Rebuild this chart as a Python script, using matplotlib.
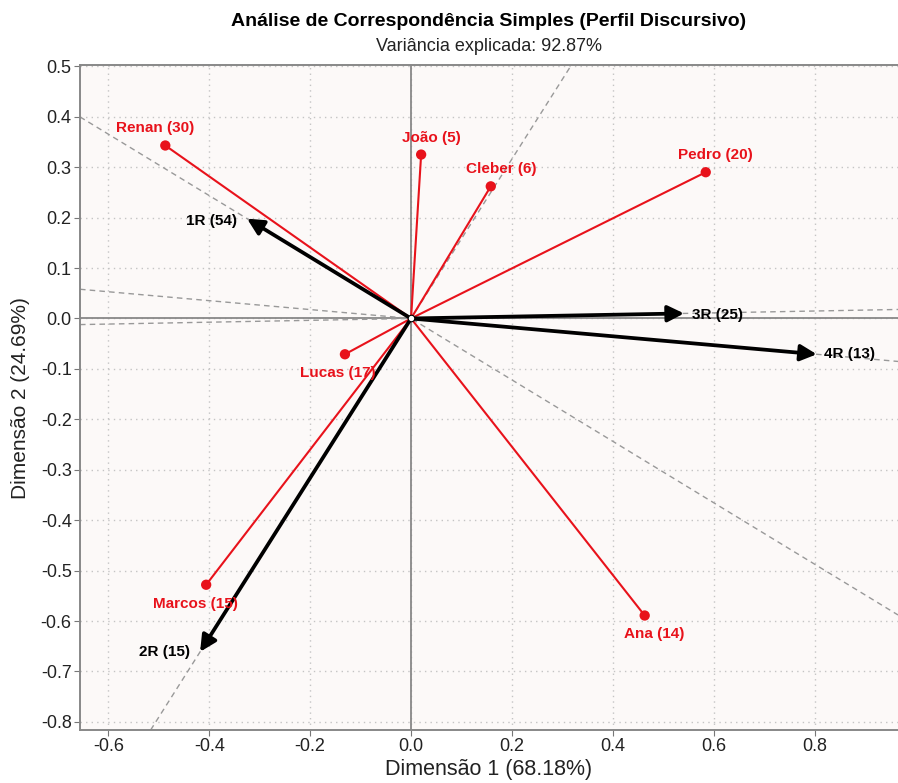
import matplotlib
matplotlib.use("Agg")
import matplotlib.pyplot as plt

# Row profiles (speakers)
row_names = ["Renan (30)", "João (5)", "Cleber (6)", "Pedro (20)", "Lucas (17)", "Marcos (15)", "Ana (14)"]
row_x = [-0.487, 0.020, 0.158, 0.584, -0.131, -0.406, 0.463]
row_y = [0.343, 0.325, 0.262, 0.290, -0.071, -0.528, -0.589]

# Column profiles (categories)
col_names = ["1R (54)", "2R (15)", "3R (25)", "4R (13)"]
col_x = [-0.325, -0.418, 0.541, 0.804]
col_y = [0.198, -0.661, 0.010, -0.071]

title = "Análise de Correspondência Simples (Perfil Discursivo)"
subtitle = "Variância explicada: 92.87%"
xlabel = "Dimensão 1 (68.18%)"
ylabel = "Dimensão 2 (24.69%)"
xticks = [-0.6, -0.4, -0.2, 0.0, 0.2, 0.4, 0.6, 0.8]
yticks = [0.5, 0.4, 0.3, 0.2, 0.1, 0.0, -0.1, -0.2, -0.3, -0.4, -0.5, -0.6, -0.7, -0.8]

plt.rcParams['font.family'] = ['Liberation Sans', 'DejaVu Sans']

RED = '#e8121b'
fig = plt.figure(figsize=(8.98, 7.83), dpi=100)
ax = fig.add_axes([0.0891, 0.0677, 0.9109, 0.8489])
ax.set_facecolor('#fcf9f8')

ax.set_xlim(-0.656, 0.965)
ax.set_ylim(-0.816, 0.502)

ax.set_xticks(xticks)
ax.set_xticklabels([f"{v:.1f}" for v in xticks])
ax.set_yticks(yticks)
ax.set_yticklabels([f"{v:.1f}" for v in yticks])
ax.grid(True, linestyle=(0, (1, 3)), color='#c4c4c4', linewidth=1.0)
ax.set_axisbelow(True)
ax.tick_params(labelsize=13, colors='#222222', length=4, color='#777777', pad=2)

for s in ['left', 'bottom', 'top']:
    ax.spines[s].set_color('#888888')
    ax.spines[s].set_linewidth(1.4)
ax.spines['right'].set_visible(False)

ax.axhline(0, color='#888888', lw=1.3, zorder=1)
ax.axvline(0, color='#888888', lw=1.3, zorder=1)

# dashed direction lines for each column
for cx, cy in zip(col_x, col_y):
    ax.axline((0, 0), (cx, cy), color='#999999', lw=1.0, ls=(0, (4, 3)), zorder=1)

# red segments and points for rows
for rx, ry in zip(row_x, row_y):
    ax.plot([0, rx], [0, ry], color=RED, lw=1.5, zorder=3)
ax.scatter(row_x, row_y, s=55, color=RED, zorder=4, edgecolors='none')

row_offsets = [(-10, 17), (10, 17), (10, 17), (10, 17), (-7, -19), (-11, -19), (10, -18)]
for name, rx, ry, off in zip(row_names, row_x, row_y, row_offsets):
    ax.annotate(name, (rx, ry), xytext=off, textcoords='offset pixels',
                ha='center', va='center', color=RED, fontsize=11, fontweight='bold', zorder=6)

# black arrows for columns
for cx, cy in zip(col_x, col_y):
    ax.annotate('', xy=(cx, cy), xytext=(0, 0),
                arrowprops=dict(arrowstyle='-|>,head_length=0.7,head_width=0.35', color='black',
                                lw=2.7, shrinkA=0, shrinkB=0, mutation_scale=14), zorder=5)

col_offsets = [(-10, -2, 'right'), (-10, 0, 'right'), (8, -2, 'left'), (7, 0, 'left')]
for name, cx, cy, (dx, dy, ha) in zip(col_names, col_x, col_y, col_offsets):
    ax.annotate(name, (cx, cy), xytext=(dx, dy), textcoords='offset pixels',
                ha=ha, va='center', color='black', fontsize=11, fontweight='bold', zorder=6)

# origin marker
ax.scatter([0], [0], s=22, color='white', edgecolors='black', linewidths=0.8, zorder=7)

ax.set_xlabel(xlabel, fontsize=15.5, color='#222222', labelpad=3)
ax.set_ylabel(ylabel, fontsize=15, color='#222222')
ax.yaxis.set_label_coords(-0.061, 0.5)

fig.text(0.5446, 0.972, title, ha='center', va='center', fontsize=14, fontweight='bold')
fig.text(0.5446, 0.941, subtitle, ha='center', va='center', fontsize=13, color='#222222')

fig.savefig('out.png', dpi=100)
